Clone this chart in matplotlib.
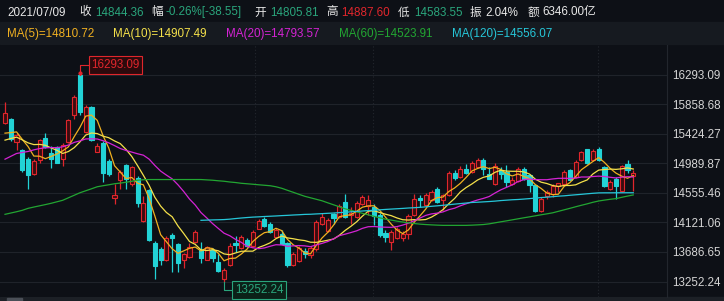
import matplotlib
matplotlib.use("Agg")
import matplotlib.pyplot as plt
from matplotlib.patches import Rectangle
import numpy as np
import pandas as pd

plt.rcParams['font.family'] = ['Liberation Sans', 'Noto Sans CJK SC']

# daily bars, 110 sessions ending 2021/07/09
opens = [15583, 15633, 15304, 15181, 15059, 14828, 15034, 15354, 15142, 15221,
         15059, 15304, 15697, 16286, 15451, 15810, 15156, 15289, 15024, 14475,
         14740, 14961, 14691, 14779, 14140, 14592, 13816, 13734, 13562, 13930,
         13797, 13572, 13606, 13831, 13719, 13572, 13719, 13537, 13292, 13488,
         13816, 13749, 13866, 13768, 14028, 14176, 14102, 13905, 13955, 13812,
         13495, 13547, 13699, 13635, 13724, 14092, 13993, 14239, 14199, 14416,
         14224, 14199, 14397, 14364, 14346, 14232, 13964, 13831, 13893, 13893,
         13944, 14224, 14485, 14372, 14445, 14617, 14445, 14519, 14847, 14788,
         14912, 14862, 14935, 15044, 14838, 14691, 14887, 14862, 14691, 14729,
         14912, 14813, 14666, 14288, 14504, 14544, 14651, 14681, 14887, 14788,
         15034, 15192, 15034, 15206, 14935, 14617, 14765, 14582, 14975, 14805.81]
highs = [15893, 15653, 15432, 15196, 15078, 15049, 15343, 15427, 15240, 15240,
         15284, 15638, 15991, 16293.09, 15844, 15829, 15280, 15314, 15049, 14691,
         14887, 14975, 14946, 14799, 14504, 14617, 13841, 13753, 13915, 13959,
         13812, 13665, 13812, 14003, 13831, 13768, 13738, 13660, 13444, 13812,
         13915, 13930, 13885, 14003, 14176, 14199, 14121, 14033, 14003, 13827,
         13679, 13768, 13738, 13768, 14151, 14254, 14180, 14258, 14386, 14533,
         14346, 14430, 14519, 14526, 14386, 14254, 14003, 14003, 14047, 13989,
         14239, 14533, 14519, 14548, 14592, 14641, 14544, 14872, 14887, 14946,
         14975, 15019, 15064, 15071, 14931, 14990, 14936, 14961, 14788, 14936,
         14931, 14828, 14681, 14489, 14592, 14681, 14700, 14887, 14902, 15034,
         15174, 15204, 15192, 15221, 14946, 14750, 14784, 14961, 15034, 14887.60]
lows = [15564, 15314, 15181, 14862, 14617, 14813, 14990, 15211, 14916, 14990,
        14946, 15284, 15633, 15697, 15432, 15314, 15151, 14715, 14799, 14397,
        14617, 14617, 14651, 14346, 14129, 13841, 13292, 13488, 13547, 13389,
        13389, 13444, 13591, 13812, 13522, 13562, 13532, 13385, 13252.24, 13473,
        13684, 13731, 13753, 13753, 14018, 14047, 13959, 13885, 13797, 13463,
        13473, 13532, 13591, 13601, 13694, 14077, 13974, 14092, 14180, 14180,
        14102, 14180, 14379, 14224, 14077, 13900, 13831, 13709, 13871, 13841,
        13881, 14209, 14346, 14357, 14430, 14401, 14298, 14504, 14740, 14769,
        14828, 14843, 14916, 14813, 14755, 14673, 14765, 14641, 14666, 14710,
        14740, 14567, 14276, 14276, 14470, 14494, 14567, 14666, 14740, 14774,
        15019, 14983, 15019, 15019, 14637, 14592, 14470, 14570, 14850, 14583.55]
closes = [15722, 15339, 15402, 14897, 14813, 15024, 15329, 15221, 15059, 14994,
          15255, 15623, 15966, 15745, 15819, 15329, 15240, 14847, 14828, 14519,
          14862, 14765, 14927, 14405, 14405, 13856, 13473, 13562, 13886, 13890,
          13522, 13650, 13753, 13978, 13601, 13753, 13601, 13404, 13425, 13768,
          13783, 13900, 13768, 13978, 14140, 14062, 13978, 14014, 13808, 13495,
          13660, 13738, 13660, 13738, 14121, 14202, 14151, 14190, 14357, 14205,
          14258, 14405, 14494, 14455, 14210, 13930, 13905, 13978, 14018, 13944,
          14210, 14470, 14445, 14519, 14567, 14420, 14519, 14847, 14779, 14912,
          14847, 14994, 15034, 14912, 14765, 14946, 14838, 14715, 14750, 14912,
          14765, 14666, 14288, 14470, 14567, 14651, 14695, 14862, 14750, 15009,
          15156, 14994, 15171, 15034, 14651, 14715, 14651, 14946, 14882.91, 14844.36]
# closes of the 19 sessions before the first bar (feed MA5/10/20 only)
prior_closes = [14500, 14560, 14600, 14520, 14553, 14950, 15000, 14980, 15050, 14977,
                15100, 15200, 15300, 15250, 15280, 15300, 15350, 15450, 15337]

ma60 = [14239, 14258, 14277, 14298, 14327, 14346, 14364, 14382, 14401, 14423,
        14445, 14482, 14519, 14556, 14585, 14614, 14644, 14659, 14673, 14688,
        14698, 14710, 14725, 14740, 14747, 14750, 14750, 14750, 14750, 14750,
        14750, 14750, 14750, 14750, 14750, 14745, 14740, 14732, 14725, 14714,
        14706, 14695, 14688, 14681, 14673, 14666, 14659, 14644, 14622, 14592,
        14563, 14533, 14504, 14482, 14460, 14438, 14408, 14379, 14350, 14320,
        14298, 14276, 14254, 14232, 14210, 14188, 14168, 14154, 14139, 14126,
        14114, 14104, 14095, 14089, 14084, 14080, 14077, 14077, 14077, 14077,
        14077, 14080, 14084, 14089, 14099, 14114, 14129, 14143, 14158, 14173,
        14188, 14202, 14217, 14232, 14246, 14261, 14283, 14305, 14327, 14350,
        14372, 14393, 14416, 14435, 14448, 14460, 14470, 14489, 14507, 14523.91]
# MA120 only exists from session 34 on
ma120_first = 34
ma120 = [14151, 14154, 14157, 14159, 14162, 14168,
         14177, 14185, 14192, 14198, 14202, 14207, 14211, 14215, 14220, 14224,
         14229, 14233, 14238, 14240, 14245, 14249, 14254, 14258, 14264, 14268,
         14276, 14282, 14288, 14293, 14299, 14305, 14311, 14316, 14321, 14326,
         14332, 14336, 14342, 14349, 14357, 14364, 14372, 14380, 14389, 14397,
         14405, 14413, 14417, 14422, 14427, 14433, 14441, 14447, 14453, 14457,
         14463, 14470, 14478, 14485, 14491, 14498, 14506, 14511, 14519, 14526,
         14533, 14541, 14548, 14554, 14555, 14555, 14556, 14556, 14556, 14556.07]

price_ticks = [16293.09, 15858.68, 15424.27, 14989.87, 14555.46, 14121.06, 13686.65, 13252.24]
month_lines = [43.4, 63.85, 102.9]

header = [("2021/07/09", "w"), ("收", "w"), ("14844.36", "g"), ("幅", "w"),
          ("-0.26%[-38.55]", "g"), ("开", "w"), ("14805.81", "g"), ("高", "w"),
          ("14887.60", "r"), ("低", "w"), ("14583.55", "g"), ("振", "w"),
          ("2.04%", "w"), ("额", "w"), ("6346.00亿", "w")]
header_x = [7, 79, 95, 151, 166, 254, 270, 326, 341, 398, 414, 470, 485, 528, 542]
ma_labels = ["MA(5)=14810.72", "MA(10)=14907.49", "MA(20)=14793.57",
             "MA(60)=14523.91", "MA(120)=14556.07"]
ma_label_x = [7, 113, 226, 339, 452]

BG = '#0d1016'
BAND = '#161a20'
RED = '#e0262c'
RED_FILL = '#3a0c10'
CYAN = '#22d3d6'
GREEN_TXT = '#2aa57c'
WHITE = '#e8e8e8'
MA_COLORS = ['#f0b020', '#f4e04a', '#d423d4', '#22a632', '#26c6d8']
txt_colors = {"w": WHITE, "g": GREEN_TXT, "r": RED}

W, H = 724, 301
fig = plt.figure(figsize=(W / 100, H / 100), dpi=100)
fig.patch.set_facecolor(BG)

# second header band and bottom scroll strip
fig.add_artist(Rectangle((0, 1 - 44 / H), 1, 22 / H, transform=fig.transFigure,
                         color=BAND, zorder=0))
fig.add_artist(Rectangle((0, 0), 1, 4 / H, transform=fig.transFigure,
                         color='#1c2026', zorder=0))
fig.add_artist(Rectangle((7 / W, 0), 15 / W, 3 / H, transform=fig.transFigure,
                         color='#4a4f57', zorder=1))

for (s, c), x in zip(header, header_x):
    fig.text(x / W, 1 - 12.5 / H, s, color=txt_colors[c], fontsize=8.4,
             ha='left', va='center')
for s, x, c in zip(ma_labels, ma_label_x, MA_COLORS):
    fig.text(x / W, 1 - 34 / H, s, color=c, fontsize=8.4, ha='left', va='center')

ax = fig.add_axes([0, 4 / H, 667 / W, (297 - 45) / H])
ax.set_facecolor(BG)

n = len(closes)
xs = np.arange(n)

# price scale: top tick at pixel 74.5, bottom tick at 281.5
per_px = (price_ticks[0] - price_ticks[-1]) / (281.5 - 74.5)
ax.set_ylim(price_ticks[-1] - (297 - 281.5) * per_px, price_ticks[0] + (74.5 - 45) * per_px)
ax.set_xlim(-0.87, 114.85)

for x in month_lines:
    ax.axvline(x, color='#23272e', ls=(0, (1, 2)), lw=0.8, zorder=0)

ax.set_yticks(price_ticks)
ax.set_yticklabels([f"{v:.2f}" for v in price_ticks])
ax.yaxis.tick_right()
ax.tick_params(axis='y', length=0, pad=4, labelsize=8.4, labelcolor='#d4d4d4')
ax.set_xticks([])
ax.grid(axis='y', color='#1f232a', lw=0.8, zorder=0)
for side in ['top', 'left', 'bottom']:
    ax.spines[side].set_visible(False)
ax.spines['right'].set_color('#22262d')
ax.spines['right'].set_linewidth(0.8)

# candles
bw = 0.72
min_h = per_px * 1.2
for i in range(n):
    o, h, l, c = opens[i], highs[i], lows[i], closes[i]
    up = c >= o
    col = RED if up else CYAN
    ax.vlines(i, l, h, color=col, lw=0.9, zorder=2)
    ax.add_patch(Rectangle((i - bw / 2, min(o, c)), bw, max(abs(c - o), min_h),
                           facecolor=RED_FILL if up else CYAN, edgecolor=col,
                           lw=0.8, zorder=3))

# moving averages
s = pd.Series(prior_closes + closes)
k = len(prior_closes)
for w, col in zip([5, 10, 20], MA_COLORS[:3]):
    ma = s.rolling(w).mean().to_numpy()[k:]
    ax.plot(xs, ma, color=col, lw=0.9, zorder=4)
ax.plot(xs, ma60, color=MA_COLORS[3], lw=0.9, zorder=4)
ax.plot(xs[ma120_first:], ma120, color=MA_COLORS[4], lw=0.9, zorder=4)

# max / min markers
imax = int(np.argmax(highs))
imin = int(np.argmin(lows))
yh = highs[imax] + 9.5 * per_px
ax.plot([imax, imax, imax + 1.5], [highs[imax], yh, yh], color=RED, lw=0.8, zorder=5)
ax.plot([imax], [highs[imax] + 2 * per_px], marker='o', ms=2, color=RED, zorder=5)
ax.text(imax + 1.95, yh, f"{highs[imax]:.2f}", color=RED, fontsize=8.4,
        ha='left', va='center', zorder=6,
        bbox=dict(boxstyle='square,pad=0.22', fc='#2c0a0d', ec=RED, lw=0.8))
yl = lows[imin] - 8.5 * per_px
ax.plot([imin, imin, imin + 1.45], [lows[imin], yl, yl], color=GREEN_TXT, lw=0.8,
        zorder=5, clip_on=False)
ax.text(imin + 1.9, yl, f"{lows[imin]:.2f}", color=GREEN_TXT, fontsize=8.4,
        ha='left', va='center', zorder=6,
        bbox=dict(boxstyle='square,pad=0.22', fc='#0b2118', ec=GREEN_TXT, lw=0.8))

fig.savefig("out.png", dpi=100, facecolor=BG)
